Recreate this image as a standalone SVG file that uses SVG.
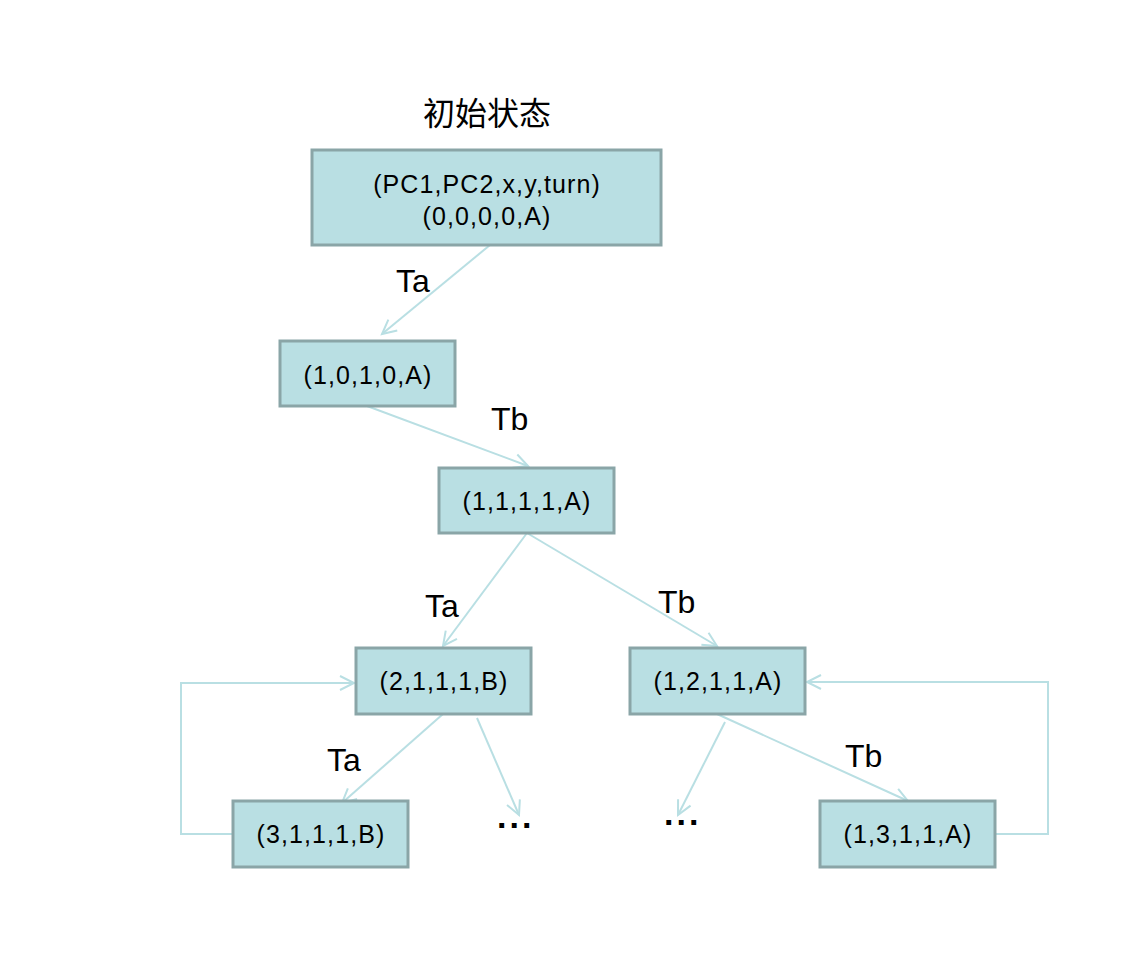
<svg xmlns="http://www.w3.org/2000/svg" width="1143" height="953" viewBox="0 0 1143 953">
<style>
.box{fill:#B9DFE3;stroke:#8AA5A7;stroke-width:3}
.t{font-family:"Liberation Sans",Arial,sans-serif;font-size:25px;letter-spacing:1.1px;fill:#000;text-anchor:middle}
.lbl{font-family:"Liberation Sans",Arial,sans-serif;font-size:32px;fill:#000}
.dots{font-family:"Liberation Sans",Arial,sans-serif;font-size:34px;font-weight:bold;letter-spacing:3px;fill:#000}
.c{fill:none;stroke:#B9DFE3;stroke-width:2;marker-end:url(#ah)}
</style>
<defs>
<marker id="ah" markerUnits="userSpaceOnUse" markerWidth="20" markerHeight="20" refX="15" refY="8" orient="auto" viewBox="0 0 20 16">
<path d="M1,1 L15,8 L1,15" fill="none" stroke="#B9DFE3" stroke-width="2"/>
</marker>
</defs>
<rect width="1143" height="953" fill="#fff"/>
<text x="487" y="125" font-family="'Noto Sans CJK SC',sans-serif" font-size="32" text-anchor="middle" fill="#000">初始状态</text>
<g id="connectors">
<line class="c" x1="490" y1="245" x2="382" y2="334"/>
<line class="c" x1="367" y1="406" x2="528" y2="466"/>
<line class="c" x1="527" y1="533" x2="443" y2="646"/>
<line class="c" x1="527" y1="533" x2="717" y2="646"/>
<line class="c" x1="443" y1="714" x2="342" y2="803"/>
<line class="c" x1="477" y1="718" x2="519" y2="815"/>
<line class="c" x1="725" y1="722" x2="678" y2="815"/>
<line class="c" x1="717" y1="714" x2="908" y2="801"/>
<polyline class="c" points="233,834 181,834 181,683 354,683"/>
<polyline class="c" points="995,834 1048,834 1048,682 807,682"/>
</g>
<g id="labels">
<text class="lbl" x="396" y="292">Ta</text>
<text class="lbl" x="491" y="430">Tb</text>
<text class="lbl" x="425" y="617">Ta</text>
<text class="lbl" x="658" y="613">Tb</text>
<text class="lbl" x="327" y="771">Ta</text>
<text class="lbl" x="845" y="767">Tb</text>
<text class="dots" x="497" y="828">...</text>
<text class="dots" x="664" y="825">...</text>
</g>
<g id="n0"><rect class="box" x="312" y="150" width="349" height="95"/>
<text class="t" x="487" y="193">(PC1,PC2,x,y,turn)</text>
<text class="t" x="487" y="225">(0,0,0,0,A)</text></g>
<g id="n1"><rect class="box" x="280" y="341" width="175" height="65"/><text class="t" x="368" y="384">(1,0,1,0,A)</text></g>
<g id="n2"><rect class="box" x="439" y="468" width="175" height="65"/><text class="t" x="527" y="510">(1,1,1,1,A)</text></g>
<g id="n3"><rect class="box" x="356" y="648" width="175" height="66"/><text class="t" x="444" y="690">(2,1,1,1,B)</text></g>
<g id="n4"><rect class="box" x="630" y="648" width="175" height="66"/><text class="t" x="718" y="690">(1,2,1,1,A)</text></g>
<g id="n5"><rect class="box" x="233" y="801" width="175" height="66"/><text class="t" x="321" y="843">(3,1,1,1,B)</text></g>
<g id="n6"><rect class="box" x="820" y="801" width="175" height="66"/><text class="t" x="908" y="843">(1,3,1,1,A)</text></g>
</svg>
